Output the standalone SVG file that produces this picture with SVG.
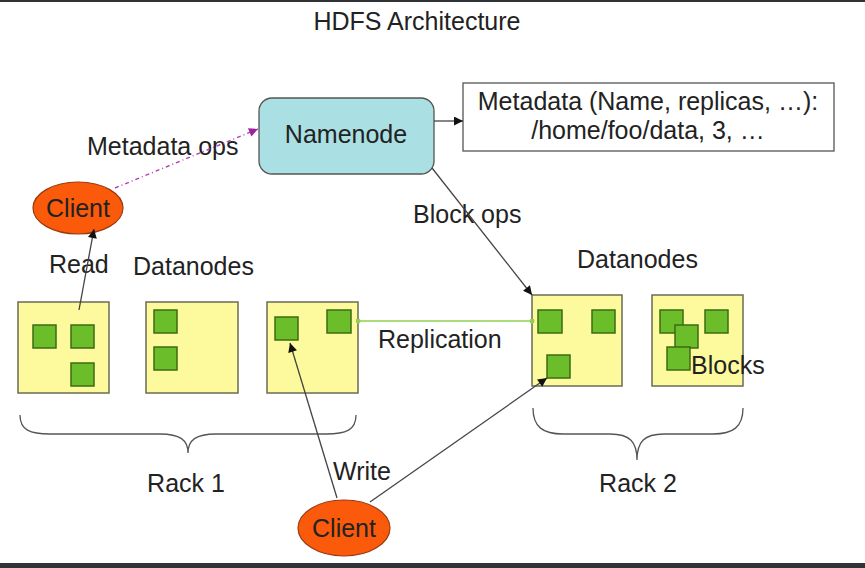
<svg xmlns="http://www.w3.org/2000/svg" width="865" height="568" viewBox="0 0 865 568">
<defs>
<style>
text{font-family:"Liberation Sans",Arial,sans-serif;font-size:25px;fill:#222;}
.dn{fill:#fdfa9e;stroke:#6b6b55;stroke-width:1.5;}
.blk{fill:#6cbd2a;stroke:#3d6b14;stroke-width:1.5;}
.cl{fill:#fa5a0a;stroke:#9a3a10;stroke-width:1.2;}
.ln{stroke:#444;stroke-width:1.3;fill:none;}
.brace{stroke:#555;stroke-width:1.3;fill:none;}
</style>
<marker id="ah" viewBox="0 0 10 10" refX="10" refY="5" markerWidth="11" markerHeight="9" markerUnits="userSpaceOnUse" orient="auto"><path d="M0,0L10,5L0,10z" fill="#111"/></marker>
<marker id="ahp" viewBox="0 0 10 10" refX="10" refY="5" markerWidth="11" markerHeight="9" markerUnits="userSpaceOnUse" orient="auto"><path d="M0,0L10,5L0,10z" fill="#a020a0"/></marker>
<marker id="dot" viewBox="0 0 6 6" refX="3" refY="3" markerWidth="5" markerHeight="5" markerUnits="userSpaceOnUse"><circle cx="3" cy="3" r="3" fill="#8fd14f"/></marker>
</defs>
<rect x="0" y="0" width="865" height="568" fill="#fff"/>
<rect x="0" y="0" width="865" height="2" fill="#303436"/>
<rect x="0" y="563" width="865" height="5" fill="#303436"/>
<text x="417" y="30" text-anchor="middle">HDFS Architecture</text>

<g id="namenode">
<rect x="259" y="98" width="175" height="76" rx="13" fill="#aadfe3" stroke="#555" stroke-width="1.3"/>
<text x="346" y="143" text-anchor="middle">Namenode</text>
</g>
<g id="metadata">
<rect x="463" y="83" width="371" height="68" fill="#fff" stroke="#555" stroke-width="1.3"/>
<text x="648" y="110" text-anchor="middle">Metadata (Name, replicas, …):</text>
<text x="648" y="139" text-anchor="middle">/home/foo/data, 3, …</text>
</g>
<g id="client-read">
<ellipse class="cl" cx="78" cy="208" rx="45" ry="26"/>
<text x="78" y="217" text-anchor="middle">Client</text>
</g>
<g id="client-write">
<ellipse class="cl" cx="344" cy="528" rx="46" ry="28"/>
<text x="344" y="537" text-anchor="middle">Client</text>
</g>

<g id="labels">
<text x="87" y="155">Metadata ops</text>
<text x="49" y="273">Read</text>
<text x="133" y="275">Datanodes</text>
<text x="413" y="223">Block ops</text>
<text x="577" y="268">Datanodes</text>
<text x="378" y="348">Replication</text>
<text x="333" y="480">Write</text>
<text x="186" y="492" text-anchor="middle">Rack 1</text>
<text x="638" y="492" text-anchor="middle">Rack 2</text>
</g>

<g id="rack1-dn1">
<rect class="dn" x="18" y="302" width="91" height="91"/>
<rect class="blk" x="33" y="325" width="23" height="23"/>
<rect class="blk" x="71" y="325" width="23" height="23"/>
<rect class="blk" x="71" y="363" width="23" height="23"/>
</g>
<g id="rack1-dn2">
<rect class="dn" x="146" y="302" width="92" height="91"/>
<rect class="blk" x="154" y="310" width="23" height="23"/>
<rect class="blk" x="154" y="347" width="23" height="23"/>
</g>
<g id="rack1-dn3">
<rect class="dn" x="267" y="302" width="91" height="91"/>
<rect class="blk" x="275" y="317" width="23" height="23"/>
<rect class="blk" x="327" y="310" width="24" height="23"/>
</g>
<g id="rack2-dn1">
<rect class="dn" x="532" y="295" width="90" height="91"/>
<rect class="blk" x="538" y="310" width="24" height="23"/>
<rect class="blk" x="592" y="310" width="23" height="23"/>
<rect class="blk" x="547" y="355" width="23" height="23"/>
</g>
<g id="rack2-dn2">
<rect class="dn" x="652" y="295" width="91" height="91"/>
<rect class="blk" x="660" y="310" width="23" height="23"/>
<rect class="blk" x="705" y="310" width="23" height="23"/>
<rect class="blk" x="675" y="325" width="23" height="23"/>
<rect class="blk" x="667" y="347" width="23" height="23"/>
<text x="691" y="374">Blocks</text>
</g>

<g id="braces">
<path class="brace" d="M20,415 C20,430 30,434 50,434 L160,434 C180,434 188,440 188,453 C188,440 196,434 216,434 L326,434 C346,434 356,430 356,415"/>
<path class="brace" d="M533,408 C533,427 543,434 563,434 L610,434 C630,434 637,442 637,460 C637,442 644,434 664,434 L713,434 C733,434 743,427 743,408"/>
</g>

<g id="connectors">
<line class="ln" x1="79" y1="310" x2="94" y2="229" marker-end="url(#ah)"/>
<line x1="115" y1="188" x2="258" y2="129" stroke="#b040b0" stroke-width="1.4" stroke-dasharray="4,3,1,3" marker-end="url(#ahp)"/>
<line class="ln" x1="434" y1="121" x2="463" y2="121" marker-end="url(#ah)"/>
<line class="ln" x1="432" y1="168" x2="532" y2="295" marker-end="url(#ah)"/>
<line class="ln" x1="337" y1="498" x2="290" y2="343" marker-end="url(#ah)"/>
<line class="ln" x1="370" y1="502" x2="547" y2="378" marker-end="url(#ah)"/>
<line x1="358" y1="321" x2="532" y2="321" stroke="#8fd14f" stroke-width="1.5" marker-start="url(#dot)" marker-end="url(#dot)"/>
</g>
</svg>
